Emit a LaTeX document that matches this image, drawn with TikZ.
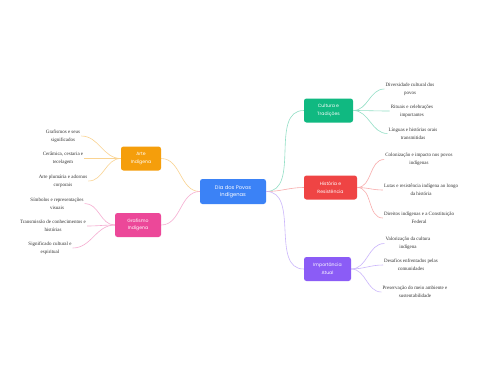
\documentclass[tikz,border=0pt]{standalone}
\usepackage{fontspec}
\setmainfont{Liberation Serif}
\newfontfamily\boxfont{Poppins}
\usetikzlibrary{positioning}
\definecolor{cblue}{HTML}{3B82F6}
\definecolor{cgreen}{HTML}{10B981}
\definecolor{cred}{HTML}{EF4444}
\definecolor{cpurple}{HTML}{8B5CF6}
\definecolor{corange}{HTML}{F59E0B}
\definecolor{cpink}{HTML}{EC4899}
\tikzset{
  %% Central topic
  rootbox/.style={
    rectangle, rounded corners=2.5pt, fill=cblue,
    text=white, align=center, font=\fontsize{5.2}{7.5}\selectfont\boxfont,
    minimum width=66pt, minimum height=25pt},
  %% Branch boxes
  branchbox/.style={
    rectangle, rounded corners=2.5pt, fill=#1,
    text=white, align=center, font=\fontsize{4.6}{7.5}\selectfont\boxfont,
    minimum height=24pt, inner xsep=3pt},
  %% Leaf texts
  leafnode/.style={
    align=center, inner sep=1pt, text=black!80,
    font=\fontsize{5}{8}\selectfont},
  %% Connectors
  link/.style={#1!45, line width=0.6pt},
}

\begin{document}
\begin{tikzpicture}[x=1pt, y=-1pt]
  \useasboundingbox[fill=white] (0,0) rectangle (480,384);

  \node[rootbox] (dia) at (233,191.5) {Dia dos Povos\\ Indígenas};

  \node[branchbox=cgreen, minimum width=49pt] (cult) at (328.5,110.5) {Cultura e\\ Tradições};
  \node[branchbox=cred, minimum width=53pt] (hist) at (330.5,187.5) {História e\\ Resistência};
  \node[branchbox=cpurple, minimum width=47pt] (impo) at (327.5,269) {Importância\\ Atual};
  \node[branchbox=corange, minimum width=40pt] (arte) at (141,158.5) {Arte\\ Indígena};
  \node[branchbox=cpink, minimum width=46pt] (graf) at (138,225) {Grafismo\\ Indígena};

  %% Leaves, right side
  \node[leafnode] (c1) at (410,89) {Diversidade cultural dos\\ povos};
  \node[leafnode] (c2) at (412,111) {Rituais e celebrações\\ importantes};
  \node[leafnode] (c3) at (413,133.5) {Línguas e histórias orais\\ transmitidas};
  \node[leafnode] (h1) at (419,159.5) {Colonização e impacto nos povos\\ indígenas};
  \node[leafnode] (h2) at (421,190) {Lutas e resistência indígena ao longo\\ da história};
  \node[leafnode] (h3) at (419,218) {Direitos indígenas e a Constituição\\ Federal};
  \node[leafnode] (i1) at (408,243.5) {Valorização da cultura\\ indígena};
  \node[leafnode] (i2) at (411,265) {Desafios enfrentados pelas\\ comunidades};
  \node[leafnode] (i3) at (415,292) {Preservação do meio ambiente e\\ sustentabilidade};

  %% Leaves, left side
  \node[leafnode] (a1) at (63,136) {Grafismos e seus\\ significados};
  \node[leafnode] (a2) at (63,158.5) {Cerâmica, cestaria e\\ tecelagem};
  \node[leafnode] (a3) at (63,181) {Arte plumária e adornos\\ corporais};
  \node[leafnode] (g1) at (57,203.5) {Símbolos e representações\\ visuais};
  \node[leafnode] (g2) at (53,226) {Transmissão de conhecimentos e\\ histórias};
  \node[leafnode] (g3) at (50,248) {Significado cultural e\\ espiritual};

  %% Main branches
  \draw[link=cgreen] (dia.east) to[out=0, in=180] (cult.west);
  \draw[link=cred] (dia.east) to[out=0, in=180] (hist.west);
  \draw[link=cpurple] (dia.east) to[out=0, in=180] (impo.west);
  \draw[link=corange] (dia.west) to[out=180, in=0] (arte.east);
  \draw[link=cpink] (dia.west) to[out=180, in=0] (graf.east);

  %% Sub branches
  \foreach \leaf in {c1,c2,c3}
    \draw[link=cgreen] (cult.east) to[out=0, in=180] (\leaf.west);
  \foreach \leaf in {h1,h2,h3}
    \draw[link=cred] (hist.east) to[out=0, in=180] (\leaf.west);
  \foreach \leaf in {i1,i2,i3}
    \draw[link=cpurple] (impo.east) to[out=0, in=180] (\leaf.west);
  \foreach \leaf in {a1,a2,a3}
    \draw[link=corange] (arte.west) to[out=180, in=0] (\leaf.east);
  \foreach \leaf in {g1,g2,g3}
    \draw[link=cpink] (graf.west) to[out=180, in=0] (\leaf.east);

\end{tikzpicture}
\end{document}
